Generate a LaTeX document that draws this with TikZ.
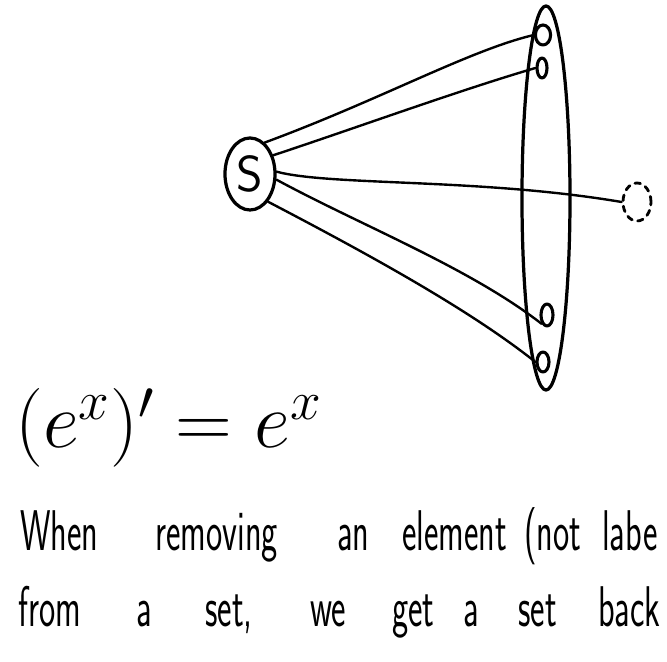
\RequirePackage{fix-cm}
\documentclass[tikz,border=0pt]{standalone}
\usepackage{tikz}
\usetikzlibrary{positioning, shapes.geometric}
\newcommand{\hw}[1]{\scalebox{0.72}[1.2]{#1}}

\begin{document}
\begin{tikzpicture}[x=0.025cm, y=-0.025cm, line cap=round, line join=round,
  elem/.style={ellipse, draw, line width=2.2pt, inner sep=0pt},
  link/.style={line width=1.7pt},
  word/.style={anchor=base west, inner sep=0pt, font=\sffamily\fontsize{34}{34}\selectfont}]
  \useasboundingbox (0,0) rectangle (667,662);
  \clip (0,0) rectangle (667,662);

  \node[ellipse, draw, line width=2.3pt, minimum width=1.2cm, minimum height=9.6cm] (set) at (546,198) {};
  \node[elem, minimum width=0.38cm, minimum height=0.5cm] (e1) at (543,35) {};
  \node[elem, minimum width=0.25cm, minimum height=0.5cm] (e2) at (542,68) {};
  \node[elem, minimum width=0.3cm, minimum height=0.55cm] (e3) at (547,315) {};
  \node[elem, minimum width=0.3cm, minimum height=0.5cm] (e4) at (543,362) {};
  \node[ellipse, draw, dashed, dash pattern=on 4pt off 4pt, line width=2pt, inner sep=0pt,
        minimum width=0.7cm, minimum height=0.95cm] (gone) at (637,202) {};
  \node[ellipse, draw, line width=2.3pt, inner sep=0pt, minimum width=1.25cm, minimum height=1.8cm,
        font=\sffamily\fontsize{36}{36}\selectfont] (s) at (250,174) {S};

  \draw[link] (s.65) .. controls (380,100) and (470,50) .. (e1.west);
  \draw[link] (s.39) .. controls (350,130) and (460,90) .. (e2.west);
  \draw[link] (s.5) .. controls (330,186) and (480,178) .. (gone.west);
  \draw[link] (s.-12) .. controls (360,225) and (470,268) .. (e3.south west);
  \draw[link] (s.-57) .. controls (370,255) and (470,310) .. (e4.west);

  \node[anchor=base west, inner sep=0pt, font=\fontsize{56}{56}\selectfont] (eq) at (15,448) {$(e^{x})' = e^{x}$};

  \node[word] (w1) at (20,551) {\hw{When}};
  \node[word] (w2) at (155,551) {\hw{removing}};
  \node[word] (w3) at (337,551) {\hw{an}};
  \node[word] (w4) at (402,551) {\hw{element}};
  \node[word] (w5) at (524,551) {\hw{(not}};
  \node[word] (w6) at (602,551) {\hw{labe}};

  \node[word] (v1) at (18,627) {\hw{from}};
  \node[word] (v2) at (136,627) {\hw{a}};
  \node[word] (v3) at (205,627) {\hw{set,}};
  \node[word] (v4) at (310,627) {\hw{we}};
  \node[word] (v5) at (392,627) {\hw{get}};
  \node[word] (v6) at (463,627) {\hw{a}};
  \node[word] (v7) at (518,627) {\hw{set}};
  \node[word] (v8) at (598,627) {\hw{back}};
\end{tikzpicture}
\end{document}
